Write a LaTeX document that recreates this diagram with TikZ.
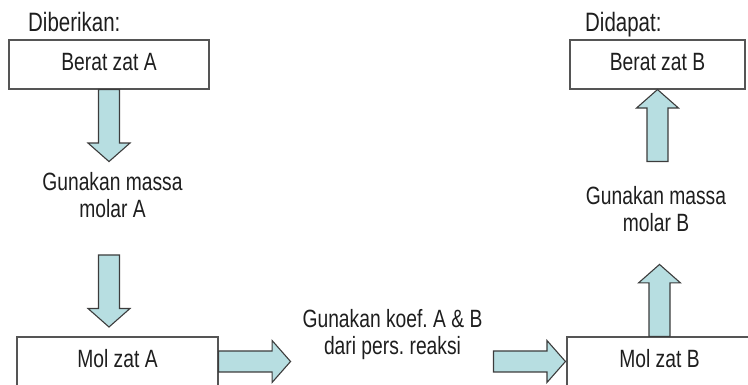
\documentclass[tikz,border=0pt]{standalone}
\usepackage{fontspec}
\setmainfont{Liberation Sans}[FakeStretch=0.77]
\usepackage{tikz}
\usepackage{xcolor}
\definecolor{panahisi}{RGB}{183,222,225}
\definecolor{panahgaris}{RGB}{60,60,60}
\definecolor{kotakgaris}{RGB}{85,85,85}
\definecolor{tulisan}{RGB}{30,30,30}
\frenchspacing

\begin{document}
\begin{tikzpicture}[x=1pt,y=1pt,
  zat/.style={draw=kotakgaris, line width=1.1pt, minimum height=49pt, inner sep=0pt,
    text height=18pt, text depth=5pt, text=tulisan, font=\fontsize{25}{27}\selectfont},
  keterangan/.style={align=center, inner sep=0pt, text=tulisan, font=\fontsize{25}{27}\selectfont},
  judul/.style={inner sep=0pt, text=tulisan, font=\fontsize{26.6}{28}\selectfont},
  panah/.style={draw=panahgaris, fill=panahisi, line width=1.1pt}]
\def\blokpanah{(0,-10.5) -- (53.5,-10.5) -- (53.5,-21) -- (72,0) -- (53.5,21) -- (53.5,10.5) -- (0,10.5) -- cycle}

\useasboundingbox (0,0) rectangle (748,385);

\node[zat, minimum width=200pt] (beratA) at (109,320.5) {Berat zat A};
\node[zat, minimum width=175pt] (beratB) at (657.5,320.5) {Berat zat B};
\node[zat, minimum width=201pt] (molA) at (117.5,23.5) {Mol zat A};
\node[zat, minimum width=185pt] (molB) at (659.5,23.5) {Mol zat B};

\node[judul, anchor=base west] (diberi) at (28,353.3) {Diberikan:};
\node[judul, anchor=base west] (dapat) at (585,353.3) {Didapat:};

\node[keterangan] (massaA) at (112.5,190.4) {Gunakan massa\\molar A};
\node[keterangan] (massaB) at (656,175.5) {Gunakan massa\\molar B};
\node[keterangan] (koef) at (392.5,50.9) {Gunakan koef. A \& B\\dari pers. reaksi};

\coordinate (turunA) at (109,130);
\coordinate (keB) at ([xshift=-73pt]molB.west);
\coordinate (naikB) at ([yshift=-72pt]beratB.south);

\draw[panah, shift={(beratA.south)}, rotate=-90] \blokpanah;
\draw[panah, shift={(turunA)}, rotate=-90] \blokpanah;
\draw[panah, shift={(molA.east)}] \blokpanah;
\draw[panah, shift={(keB)}] \blokpanah;
\draw[panah, shift={(molB.north)}, rotate=90] \blokpanah;
\draw[panah, shift={(naikB)}, rotate=90] \blokpanah;
\end{tikzpicture}
\end{document}
